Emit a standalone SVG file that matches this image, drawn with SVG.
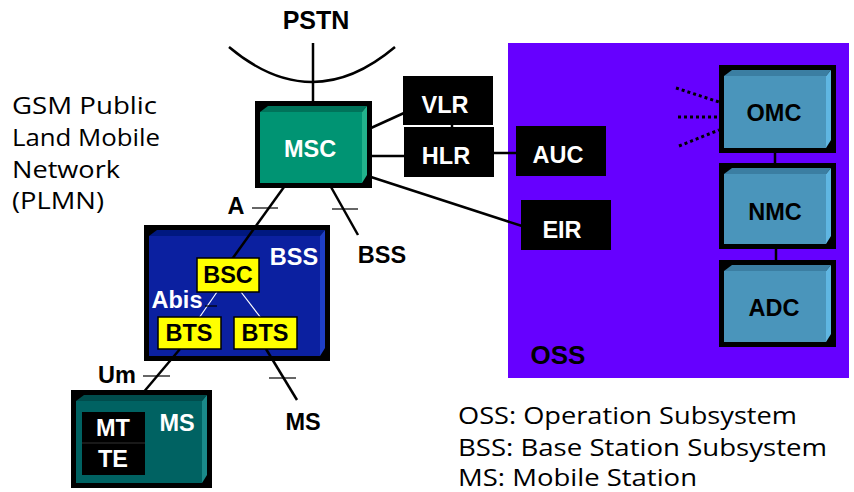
<svg xmlns="http://www.w3.org/2000/svg" width="854" height="492" viewBox="0 0 854 492">
<style>
.bg{fill:#ffffff}
.lbl{font-family:"Liberation Sans",Arial,sans-serif;font-weight:bold;font-size:23.5px;text-anchor:middle}
.w{fill:#ffffff}
.k{fill:#000000}
.hand{font-family:"Open Sans","DejaVu Sans",sans-serif;font-size:23px;fill:#000000}
.ln{stroke:#000;stroke-width:2.5;fill:none}
.tick{stroke:#000;stroke-width:1.2;fill:none}
.wl{stroke:#fff;stroke-width:1.2;fill:none}
.dot{stroke:#000;stroke-width:3;stroke-dasharray:3 3;fill:none}
.blk{fill:#000}
.yel{fill:#ffff00;stroke:#000;stroke-width:1.5}
.msc-t{fill:#00735a}.msc-f{fill:#009473}.msc-r{fill:#22b38c}
.bss-t{fill:#001880}.bss-f{fill:#0b20a0}.bss-r{fill:#1e3ec6}
.om-t{fill:#3b7ea2}.om-f{fill:#4a95bb}.om-r{fill:#5fb6e2}
.ms-t{fill:#004c4c}.ms-f{fill:#006262}.ms-r{fill:#1a8a8a}
</style>
<rect class="bg" x="0" y="0" width="854" height="492"/>

<g id="oss">
<rect x="508" y="43" width="341" height="335" fill="#6600ff"/>
<text class="lbl k" x="558" y="364" style="font-size:26px">OSS</text>
</g>

<g id="plmn-label">
<text class="hand" x="12" y="114" textLength="145" lengthAdjust="spacingAndGlyphs">GSM Public</text>
<text class="hand" x="12" y="146" textLength="148" lengthAdjust="spacingAndGlyphs">Land Mobile</text>
<text class="hand" x="12" y="178" textLength="108" lengthAdjust="spacingAndGlyphs">Network</text>
<text class="hand" x="12" y="209" textLength="92" lengthAdjust="spacingAndGlyphs">(PLMN)</text>
</g>

<g id="legend">
<text class="hand" x="458" y="424" textLength="339" lengthAdjust="spacingAndGlyphs">OSS: Operation Subsystem</text>
<text class="hand" x="458" y="456" textLength="369" lengthAdjust="spacingAndGlyphs">BSS: Base Station Subsystem</text>
<text class="hand" x="458" y="486" textLength="239" lengthAdjust="spacingAndGlyphs">MS: Mobile Station</text>
</g>

<g id="pstn">
<text class="lbl k" x="316" y="29" style="font-size:25px">PSTN</text>
<path class="ln" d="M229,47 Q312,117 395,47" stroke-width="2"/>
</g>

<g id="connectors">
<line class="ln" x1="313" y1="43" x2="313" y2="102"/>
<line class="ln" x1="371" y1="128" x2="404" y2="113"/>
<line class="ln" x1="371" y1="156" x2="405" y2="156"/>
<line class="ln" x1="493" y1="153" x2="517" y2="153"/>
<line class="ln" x1="452" y1="124" x2="452" y2="128" stroke-width="1.5"/>
<line class="ln" x1="371" y1="177" x2="522" y2="226"/>
<line class="ln" x1="331" y1="187" x2="358" y2="235"/>
<line class="tick" x1="332" y1="209" x2="358" y2="209"/>
<line class="ln" x1="775" y1="152" x2="775" y2="164"/>
<line class="ln" x1="776" y1="248" x2="776" y2="261"/>
<line class="dot" x1="676" y1="88" x2="719" y2="102"/>
<line class="dot" x1="678" y1="117" x2="719" y2="117"/>
<line class="dot" x1="679" y1="146" x2="719" y2="130"/>
</g>

<g id="msc">
<rect class="blk" x="255" y="101" width="117" height="87"/>
<polygon class="msc-t" points="260,112 268,106 367,106 362,112"/>
<rect class="msc-f" x="260" y="112" width="102" height="71"/>
<polygon class="msc-r" points="362,112 367,106 367,175 362,183"/>
<text class="lbl w" x="310" y="157">MSC</text>
</g>

<g id="vlr">
<rect class="blk" x="403" y="76" width="90" height="49"/>
<text class="lbl w" x="445" y="113">VLR</text>
</g>
<g id="hlr">
<rect class="blk" x="404" y="127" width="90" height="50"/>
<text class="lbl w" x="446" y="164">HLR</text>
</g>
<g id="auc">
<rect class="blk" x="516" y="126" width="90" height="50"/>
<text class="lbl w" x="558" y="163">AUC</text>
</g>
<g id="eir">
<rect class="blk" x="521" y="200" width="90" height="50"/>
<text class="lbl w" x="562" y="238">EIR</text>
</g>

<g id="omc">
<rect class="blk" x="719" y="65" width="117" height="88"/>
<polygon class="om-t" points="724,76 732,70 831,70 826,76"/>
<rect class="om-f" x="724" y="76" width="102" height="72"/>
<polygon class="om-r" points="826,76 831,70 831,140 826,148"/>
<text class="lbl k" x="774" y="121">OMC</text>
</g>
<g id="nmc">
<rect class="blk" x="719" y="163" width="117" height="86"/>
<polygon class="om-t" points="724,174 732,168 831,168 826,174"/>
<rect class="om-f" x="724" y="174" width="102" height="70"/>
<polygon class="om-r" points="826,174 831,168 831,236 826,244"/>
<text class="lbl k" x="775" y="220">NMC</text>
</g>
<g id="adc">
<rect class="blk" x="719" y="260" width="117" height="87"/>
<polygon class="om-t" points="724,271 732,265 831,265 826,271"/>
<rect class="om-f" x="724" y="271" width="102" height="71"/>
<polygon class="om-r" points="826,271 831,265 831,334 826,342"/>
<text class="lbl k" x="774" y="316">ADC</text>
</g>

<g id="bss">
<rect class="blk" x="144" y="225" width="186" height="136"/>
<polygon class="bss-t" points="149,236 157,230 325,230 320,236"/>
<rect class="bss-f" x="149" y="236" width="171" height="120"/>
<polygon class="bss-r" points="320,236 325,230 325,348 320,356"/>
<text class="lbl w" x="294" y="265">BSS</text>
</g>

<g id="bss-links">
<line class="ln" x1="284" y1="187" x2="230" y2="262"/>
<line class="tick" x1="252" y1="208" x2="278" y2="208"/>
<line class="wl" x1="217" y1="292" x2="199" y2="318"/>
<line class="wl" x1="241" y1="292" x2="261" y2="318"/>
<line class="tick" x1="205" y1="306" x2="217" y2="306"/>
<line class="ln" x1="180" y1="349" x2="126" y2="413"/>
<line class="tick" x1="143" y1="376" x2="170" y2="376"/>
<line class="ln" x1="266" y1="349" x2="297" y2="400"/>
<line class="tick" x1="269" y1="378" x2="296" y2="378"/>
</g>

<g id="bsc">
<rect class="yel" x="197" y="258" width="62" height="34"/>
<text class="lbl k" x="228" y="283">BSC</text>
</g>
<text class="lbl w" x="177" y="308">Abis</text>
<g id="bts1">
<rect class="yel" x="158" y="317" width="63" height="32"/>
<text class="lbl k" x="189" y="341">BTS</text>
</g>
<g id="bts2">
<rect class="yel" x="234" y="317" width="63" height="32"/>
<text class="lbl k" x="265" y="341">BTS</text>
</g>

<text class="lbl k" x="236" y="214">A</text>
<text class="lbl k" x="382" y="263">BSS</text>
<text class="lbl k" x="117" y="383">Um</text>
<text class="lbl k" x="303" y="430">MS</text>

<g id="ms">
<rect class="blk" x="71" y="390" width="141" height="98"/>
<polygon class="ms-t" points="76,401 84,395 207,395 202,401"/>
<rect class="ms-f" x="76" y="401" width="126" height="82"/>
<polygon class="ms-r" points="202,401 207,395 207,475 202,483"/>
<rect class="blk" x="82" y="412" width="63" height="63"/>
<line x1="82" y1="443" x2="145" y2="443" stroke="#333" stroke-width="1"/>
<text class="lbl w" x="113" y="436">MT</text>
<text class="lbl w" x="113" y="467">TE</text>
<text class="lbl w" x="177" y="431">MS</text>
</g>
</svg>
